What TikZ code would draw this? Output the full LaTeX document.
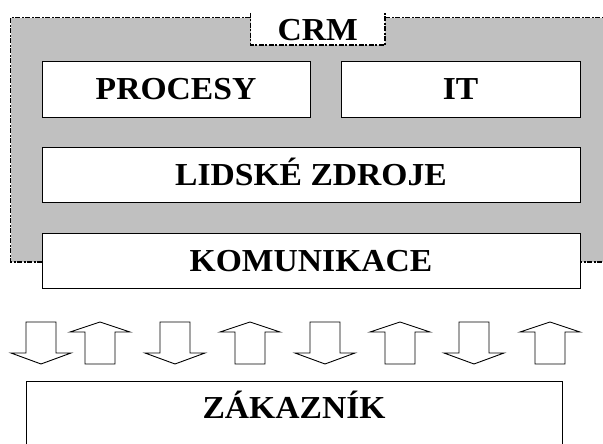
\documentclass[tikz,border=0pt]{standalone}
\usepackage{fontspec}
\setmainfont{Liberation Serif}[FakeStretch=1.05]
\usepackage{tikz}
\usetikzlibrary{positioning}
\definecolor{CRMgray}{HTML}{C0C0C0}

\begin{document}
\begin{tikzpicture}[x=1pt, y=-1pt,
    every node/.style={font=\fontsize{32}{32}\selectfont\bfseries},
    box/.style={draw, fill=white, line width=0.9pt, inner sep=0pt,
        text height=21.5pt, text depth=0pt},
    crmline/.style={line width=1.3pt, dash pattern=on 5pt off 1.5pt on 2pt off 1.5pt},
    arrowline/.style={draw, fill=white, line width=0.9pt, line join=miter}]
    \useasboundingbox (0,0) rectangle (603,444);
    \clip (0,0) rectangle (603,444);

    % grey CRM area, open to the right
    \fill[CRMgray] (10.7,17.7) rectangle (620,262);
    \draw[crmline] (620,17.7) -- (10.7,17.7) -- (10.7,262) -- (620,262);

    % tab with the title
    \fill[white] (250.7,10) rectangle (385,45);
    \draw[crmline] (250.7,13) -- (250.7,45) -- (385,45) -- (385,13);
    \node[inner sep=0pt, text height=21.5pt, text depth=0pt] (crm) at (317.8,30) {CRM};

    \node[box, minimum width=268pt, minimum height=56pt] (procesy) at (176,89) {PROCESY};
    \node[box, minimum width=239pt, minimum height=56pt] (it) at (460.5,89) {IT};
    \node[box, minimum width=538pt, minimum height=55pt] (lidske) at (311,174.5) {LIDSKÉ ZDROJE};
    \node[box, minimum width=538pt, minimum height=55pt] (komunikace) at (311,260.5) {KOMUNIKACE};

    % arrows between company and customer
    \foreach \cx in {41,175,325,474}
        \draw[arrowline] (\cx-15,322) -- (\cx+15,322) -- (\cx+15,353) -- (\cx+30,353)
            -- (\cx,364) -- (\cx-30,353) -- (\cx-15,353) -- cycle;
    \foreach \cx in {100,250,400,550}
        \draw[arrowline] (\cx,322) -- (\cx+30,332) -- (\cx+15,332) -- (\cx+15,364)
            -- (\cx-15,364) -- (\cx-15,332) -- (\cx-30,332) -- cycle;

    \node[box, minimum width=536pt, minimum height=90pt, text depth=36pt] (zakaznik)
        at (294,426) {ZÁKAZNÍK};
\end{tikzpicture}
\end{document}
